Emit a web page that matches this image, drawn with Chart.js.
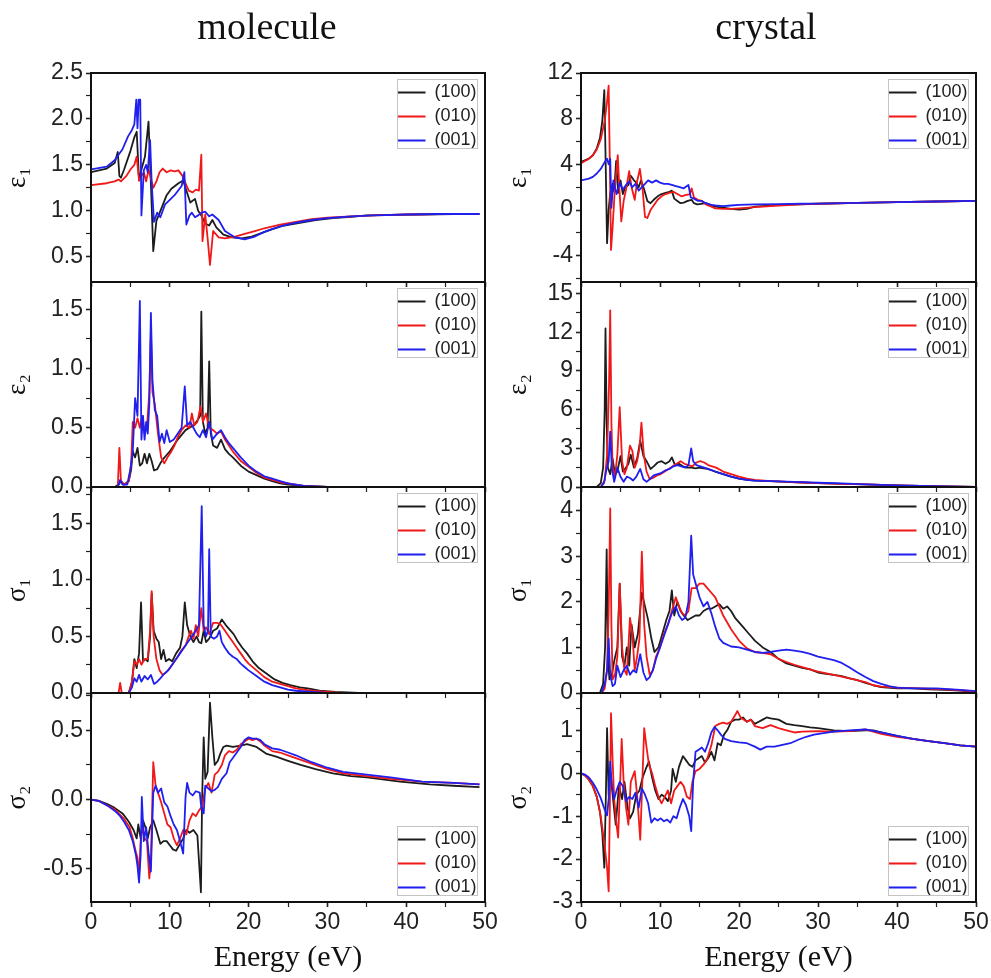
<!DOCTYPE html>
<html><head><meta charset="utf-8">
<script src="https://cdn.jsdelivr.net/npm/chart.js@4.4.1/dist/chart.umd.min.js"></script>
<style>
html,body{margin:0;padding:0;background:#fff;width:991px;height:978px;overflow:hidden}
#wrap{position:relative;width:991px;height:978px}
#wrap canvas{position:absolute;left:0;top:0}
</style></head><body><div id="wrap"></div>
<script>
// ---------- labels ----------
const SERIES_LABELS = ['(100)', '(010)', '(001)'];
const COLUMN_TITLES = ['molecule', 'crystal'];
const ENERGY_TITLE = 'Energy (eV)';
const ENERGY_MAJOR = [0, 10, 20, 30, 40, 50];
const ENERGY_MINOR = [5, 15, 25, 35, 45];

// ---------- molecule: [energy (eV), value] ----------
const mol_eps1_100 = [[0,1.42],[2,1.46],[3,1.52],[3.4,1.64],[3.6,1.38],[3.8,1.36],[4.2,1.45],[5.0,1.65],[5.5,1.8],[5.8,1.86],[6.1,1.33],[6.4,1.45],[6.85,1.59],[7.3,1.97],[7.6,1.3],[7.9,0.56],[8.3,0.89],[9.0,1.04],[9.6,1.17],[10.2,1.24],[11.1,1.3],[11.7,1.33],[12.1,1.22],[12.6,1.09],[13.2,1.13],[13.6,1.0],[14.0,0.95],[14.5,0.86],[15.0,0.84],[15.4,0.9],[15.9,0.82],[16.8,0.74],[17.9,0.71],[19.1,0.7],[20.4,0.72],[21.7,0.76],[23,0.8],[24.5,0.84],[26.5,0.87],[28.5,0.9],[30.7,0.92],[33,0.935],[35,0.95],[38,0.955],[42,0.96],[46,0.965],[49.3,0.965]];
const mol_eps1_010 = [[0,1.28],[2,1.3],[3,1.32],[3.5,1.34],[3.8,1.32],[4.5,1.38],[5.0,1.45],[5.5,1.5],[5.8,1.59],[6.1,1.33],[6.4,1.38],[6.7,1.42],[7.0,1.32],[7.3,1.45],[7.6,1.35],[7.9,1.25],[8.3,1.32],[8.7,1.42],[9.1,1.46],[9.6,1.42],[10.1,1.44],[10.6,1.43],[11.1,1.44],[11.6,1.38],[12.0,1.3],[12.4,1.22],[12.9,1.2],[13.3,1.23],[13.7,1.22],[14.0,1.61],[14.15,0.67],[14.5,0.96],[14.8,0.7],[15.1,0.41],[15.5,0.78],[16.2,0.71],[17.0,0.7],[18.3,0.72],[19.5,0.75],[20.8,0.78],[22,0.81],[24,0.85],[26,0.88],[28,0.91],[30,0.925],[33,0.94],[36,0.95],[40,0.96],[44,0.965],[49.3,0.965]];
const mol_eps1_001 = [[0,1.45],[2,1.48],[3,1.55],[3.5,1.61],[4.0,1.67],[4.7,1.81],[5.2,1.88],[5.5,1.94],[5.75,2.21],[5.9,1.9],[6.05,2.21],[6.25,2.21],[6.4,0.95],[6.7,1.44],[7.0,1.5],[7.2,1.42],[7.5,1.77],[7.7,1.3],[8.0,0.88],[8.4,0.98],[8.8,0.93],[9.4,1.07],[10.0,1.12],[10.7,1.18],[11.5,1.27],[11.85,1.42],[12.1,0.85],[12.5,0.95],[12.8,0.98],[13.2,0.93],[13.6,0.95],[14.0,0.98],[14.5,0.99],[15.0,0.94],[15.4,0.96],[16.2,0.9],[17.0,0.78],[18.3,0.71],[19.5,0.69],[20.8,0.72],[22,0.77],[24,0.83],[26,0.87],[28,0.9],[30,0.92],[33,0.94],[36,0.95],[40,0.96],[44,0.965],[49.3,0.965]];

const mol_eps2_100 = [[0,0],[3.0,0],[3.5,0.02],[3.8,0.05],[4.2,0.02],[4.8,0.05],[5.1,0.15],[5.3,0.3],[5.6,0.25],[5.9,0.33],[6.2,0.18],[6.5,0.2],[6.8,0.28],[7.1,0.2],[7.4,0.28],[7.7,0.22],[8.0,0.14],[8.4,0.15],[8.8,0.2],[9.2,0.24],[9.6,0.27],[10.0,0.3],[10.5,0.35],[11.0,0.4],[11.5,0.44],[12.0,0.48],[12.5,0.5],[13.0,0.52],[13.5,0.56],[13.85,0.6],[14.0,1.48],[14.2,0.55],[14.5,0.45],[14.8,0.5],[15.0,1.06],[15.2,0.45],[15.5,0.35],[16.0,0.33],[16.5,0.4],[17.0,0.32],[17.5,0.28],[18.0,0.25],[19,0.18],[20,0.13],[21,0.1],[22,0.07],[23,0.05],[24,0.03],[25,0.02],[27,0.01],[30,0],[49.3,0]];
const mol_eps2_010 = [[0,0],[3.4,0],[3.6,0.33],[3.8,0.05],[4.2,0.02],[4.8,0.05],[5.1,0.2],[5.3,0.55],[5.6,0.5],[5.9,0.58],[6.2,0.5],[6.5,0.6],[6.8,0.45],[7.1,0.5],[7.4,0.8],[7.6,1.3],[7.8,0.8],[8.1,0.7],[8.5,0.45],[8.9,0.25],[9.3,0.2],[9.7,0.25],[10.2,0.3],[10.6,0.35],[11.0,0.42],[11.5,0.48],[12.0,0.52],[12.5,0.5],[12.8,0.62],[13.1,0.52],[13.5,0.55],[13.9,0.68],[14.2,0.55],[14.6,0.62],[15.0,0.5],[15.5,0.48],[16.0,0.45],[16.5,0.47],[17.0,0.4],[17.5,0.35],[18.0,0.3],[19,0.22],[20,0.17],[21,0.12],[22,0.08],[23,0.06],[24,0.04],[25,0.03],[27,0.01],[30,0],[49.3,0]];
const mol_eps2_001 = [[0,0],[3.4,0],[3.7,0.06],[4.0,0.02],[4.6,0.02],[5.0,0.15],[5.3,0.3],[5.6,0.75],[5.9,0.6],[6.2,1.57],[6.4,0.4],[6.6,0.6],[6.8,0.4],[7.0,0.55],[7.2,0.45],[7.4,0.7],[7.6,1.47],[7.8,0.9],[8.1,0.65],[8.4,0.6],[8.7,0.38],[9.0,0.45],[9.3,0.37],[9.6,0.48],[10.0,0.38],[10.5,0.4],[11.0,0.45],[11.5,0.5],[11.9,0.85],[12.2,0.52],[12.6,0.55],[13.0,0.5],[13.4,0.45],[13.8,0.42],[14.2,0.48],[14.6,0.42],[15.0,0.55],[15.4,0.4],[16.0,0.45],[16.5,0.48],[17.0,0.42],[17.5,0.37],[18.0,0.33],[19,0.25],[20,0.18],[21,0.13],[22,0.09],[23,0.07],[24,0.05],[25,0.03],[27,0.01],[30,0],[49.3,0]];

const mol_sig1_100 = [[0,0],[4.8,0],[5.2,0.1],[5.5,0.3],[5.8,0.22],[6.1,0.35],[6.35,0.8],[6.6,0.28],[6.9,0.3],[7.2,0.28],[7.5,0.5],[7.7,0.88],[7.95,0.55],[8.3,0.48],[8.6,0.45],[8.9,0.3],[9.2,0.38],[9.5,0.28],[9.9,0.3],[10.3,0.28],[10.8,0.35],[11.3,0.4],[11.6,0.5],[11.9,0.8],[12.2,0.6],[12.6,0.5],[13.0,0.45],[13.4,0.5],[13.7,0.45],[14.0,0.44],[14.3,0.55],[14.6,0.45],[15.0,0.48],[15.5,0.55],[16.0,0.57],[16.6,0.65],[17.1,0.6],[17.6,0.56],[18.1,0.52],[18.6,0.46],[19.2,0.4],[19.8,0.35],[20.5,0.28],[21.3,0.22],[22.3,0.17],[23.3,0.12],[24.3,0.09],[25.3,0.07],[26.5,0.05],[27.5,0.04],[29,0.02],[31,0.01],[34,0],[49.3,0]];
const mol_sig1_010 = [[0,0],[3.5,0],[3.7,0.09],[3.9,0],[4.8,0],[5.2,0.1],[5.5,0.28],[5.8,0.25],[6.1,0.3],[6.4,0.25],[6.8,0.3],[7.2,0.3],[7.5,0.55],[7.7,0.9],[7.95,0.5],[8.3,0.3],[8.7,0.2],[9.1,0.16],[9.5,0.18],[10.0,0.22],[10.5,0.27],[11.0,0.32],[11.5,0.38],[12.0,0.42],[12.4,0.5],[12.7,0.55],[13.0,0.48],[13.3,0.6],[13.6,0.5],[14.0,0.75],[14.3,0.55],[14.6,0.58],[15.0,0.52],[15.5,0.62],[16.0,0.62],[16.5,0.6],[17.0,0.55],[17.5,0.5],[18.0,0.45],[18.5,0.4],[19,0.35],[19.5,0.3],[20,0.26],[21,0.2],[22,0.14],[23,0.1],[24,0.08],[25,0.06],[26,0.04],[27,0.03],[28,0.02],[30,0.01],[32,0],[49.3,0]];
const mol_sig1_001 = [[0,0],[4.8,0],[5.2,0.05],[5.5,0.13],[5.8,0.1],[6.1,0.16],[6.4,0.1],[6.8,0.15],[7.2,0.12],[7.6,0.16],[8.0,0.08],[8.4,0.1],[8.8,0.13],[9.3,0.17],[9.8,0.2],[10.3,0.25],[10.8,0.3],[11.3,0.35],[11.8,0.4],[12.3,0.45],[12.8,0.5],[13.3,0.55],[13.7,0.6],[14.05,1.65],[14.3,0.6],[14.6,0.5],[14.85,0.55],[15.0,1.27],[15.2,0.5],[15.6,0.48],[16.0,0.5],[16.3,0.55],[16.6,0.45],[17.0,0.4],[17.5,0.35],[18.0,0.32],[18.5,0.3],[19,0.26],[19.5,0.23],[20,0.2],[21,0.15],[22,0.1],[23,0.07],[24,0.05],[25,0.03],[26,0.02],[28,0.01],[30,0],[49.3,0]];

const mol_sig2_100 = [[0,0],[1,-0.01],[2,-0.03],[3,-0.06],[4,-0.1],[4.8,-0.16],[5.4,-0.22],[5.8,-0.28],[6.0,-0.18],[6.3,-0.28],[6.6,-0.15],[6.9,-0.2],[7.2,-0.28],[7.5,-0.2],[7.9,-0.15],[8.3,-0.22],[8.8,-0.32],[9.2,-0.3],[9.6,-0.3],[10.0,-0.33],[10.4,-0.36],[10.8,-0.37],[11.3,-0.32],[11.7,-0.28],[12.1,-0.22],[12.5,-0.24],[13.0,-0.22],[13.5,-0.26],[13.95,-0.67],[14.1,0.0],[14.3,0.45],[14.5,0.15],[14.8,0.2],[15.1,0.7],[15.4,0.45],[15.7,0.25],[16.1,0.28],[16.4,0.33],[16.8,0.38],[17.2,0.39],[18,0.38],[19,0.39],[19.8,0.4],[21,0.38],[22.3,0.33],[23.5,0.31],[25,0.28],[26.6,0.25],[28.5,0.22],[30.7,0.19],[33,0.17],[35,0.16],[39.2,0.13],[43,0.11],[46,0.1],[49.3,0.09]];
const mol_sig2_010 = [[0,0],[1,-0.01],[2,-0.04],[3,-0.07],[3.7,-0.11],[4.2,-0.14],[4.9,-0.2],[5.3,-0.28],[5.7,-0.38],[5.9,-0.42],[6.1,-0.55],[6.3,-0.3],[6.5,-0.2],[6.8,-0.28],[7.1,-0.3],[7.4,-0.57],[7.6,-0.45],[7.9,0.27],[8.2,0.1],[8.5,0.05],[8.9,-0.02],[9.3,-0.1],[9.7,-0.18],[10.1,-0.2],[10.5,-0.28],[10.9,-0.33],[11.3,-0.28],[11.7,-0.22],[12.1,-0.25],[12.5,-0.15],[12.9,-0.1],[13.3,-0.12],[13.7,-0.08],[14.1,-0.05],[14.5,0.08],[14.9,0.12],[15.3,0.05],[15.7,0.18],[16.1,0.2],[16.6,0.25],[17.0,0.32],[17.5,0.35],[18.0,0.34],[18.5,0.36],[19,0.4],[19.5,0.42],[20,0.44],[20.5,0.43],[21,0.44],[21.5,0.42],[22,0.39],[23,0.35],[24,0.34],[25,0.32],[26,0.3],[28,0.26],[30,0.22],[32,0.19],[35,0.17],[38,0.15],[42,0.13],[46,0.12],[49.3,0.11]];
const mol_sig2_001 = [[0,0],[1,-0.01],[2,-0.04],[3,-0.08],[3.7,-0.12],[4.2,-0.16],[4.8,-0.22],[5.3,-0.3],[5.7,-0.4],[5.9,-0.48],[6.1,-0.6],[6.3,-0.4],[6.45,0.02],[6.7,-0.3],[7.0,-0.2],[7.3,-0.38],[7.6,-0.52],[7.9,0.05],[8.2,0.1],[8.5,0.05],[8.9,0.08],[9.3,-0.02],[9.7,-0.05],[10.1,-0.12],[10.5,-0.18],[10.9,-0.22],[11.3,-0.3],[11.7,-0.39],[12.0,0.02],[12.2,0.12],[12.5,0.05],[12.9,0.03],[13.3,0.06],[13.8,0.05],[14.0,-0.06],[14.3,-0.1],[14.5,0.1],[14.9,0.08],[15.3,0.06],[15.7,0.07],[16.1,0.09],[16.6,0.15],[17.2,0.19],[17.6,0.27],[18.0,0.3],[18.5,0.34],[19,0.38],[19.5,0.43],[20,0.45],[20.5,0.44],[21,0.44],[21.5,0.43],[22,0.4],[23,0.37],[24,0.36],[25,0.34],[26,0.32],[28,0.27],[30,0.23],[32,0.2],[35,0.18],[38,0.16],[42,0.13],[46,0.12],[49.3,0.11]];

// ---------- crystal: [energy (eV), value] ----------
const cry_eps1_100 = [[0,4.2],[1,4.5],[1.5,4.8],[2.0,5.4],[2.4,6.3],[2.7,7.8],[2.95,10.5],[3.1,5],[3.3,-2.9],[3.5,0.0],[3.7,1.5],[4.0,2.3],[4.2,1.6],[4.45,4.3],[4.7,1.5],[5.0,2.6],[5.3,1.4],[5.6,2.0],[6.0,2.2],[6.3,3.0],[6.7,2.6],[7.0,2.4],[7.3,2.0],[7.6,2.6],[8.0,1.8],[8.4,0.8],[8.8,0.6],[9.2,0.9],[9.7,1.2],[10.2,1.4],[10.7,1.5],[11.2,1.6],[11.5,1.7],[11.8,1.0],[12.2,0.8],[12.6,0.6],[13.0,0.65],[13.5,0.8],[14.0,0.9],[14.3,0.6],[14.7,0.5],[15.2,0.55],[15.8,0.6],[16.3,0.45],[17,0.3],[17.5,0.25],[18,0.2],[19,0.1],[20,0.05],[21,0.1],[22,0.3],[23,0.35],[25,0.45],[27,0.5],[30,0.55],[35,0.62],[40,0.7],[45,0.75],[50,0.8]];
const cry_eps1_010 = [[0,4.1],[1,4.5],[1.5,4.8],[2,5.3],[2.5,6.2],[3.0,7.8],[3.3,9.5],[3.5,10.9],[3.65,4.0],[3.8,-3.5],[4.0,-1.5],[4.3,2.0],[4.65,4.8],[4.85,2.0],[5.1,-1.0],[5.4,0.8],[5.7,1.8],[6.1,3.4],[6.4,2.0],[6.8,0.9],[7.1,2.5],[7.45,3.6],[7.8,1.8],[8.1,-0.6],[8.4,-0.7],[8.8,0.0],[9.2,0.4],[9.7,0.9],[10.2,1.2],[10.7,1.4],[11.2,1.5],[11.7,1.6],[12.2,1.4],[12.7,1.2],[13.2,1.3],[13.8,1.4],[14.0,1.9],[14.3,1.1],[14.8,0.9],[15.3,0.8],[15.8,0.5],[16.5,0.3],[17,0.15],[18,0.1],[19,0.1],[20,0.15],[22,0.25],[25,0.4],[28,0.5],[30,0.55],[35,0.62],[40,0.7],[45,0.75],[50,0.8]];
const cry_eps1_001 = [[0,2.6],[1,2.75],[1.5,2.9],[2,3.2],[2.5,3.6],[3.0,4.2],[3.3,4.5],[3.5,4.0],[3.7,4.5],[3.85,0.2],[4.1,2.6],[4.5,1.4],[4.9,2.4],[5.3,1.8],[5.7,2.2],[6.1,2.5],[6.5,2.0],[6.9,2.3],[7.3,1.7],[7.7,2.0],[8.1,2.3],[8.5,2.6],[9.0,2.4],[9.5,2.6],[10.0,2.4],[10.5,2.3],[11.0,2.3],[11.5,2.2],[12.0,2.1],[12.5,2.0],[13.0,1.9],[13.6,2.2],[13.9,1.1],[14.3,1.0],[14.8,0.8],[15.3,0.8],[15.8,0.6],[16.5,0.45],[17,0.4],[18,0.35],[19,0.4],[20,0.45],[22,0.5],[25,0.52],[28,0.55],[30,0.57],[35,0.63],[40,0.7],[45,0.75],[50,0.8]];

const cry_eps2_100 = [[0,0],[2.0,0],[2.5,0.3],[2.8,1.5],[3.0,6],[3.1,12.3],[3.25,5],[3.4,1.5],[3.7,1.0],[4.0,2.2],[4.3,1.0],[4.6,1.2],[5.0,2.4],[5.3,1.2],[5.7,1.5],[6.0,1.8],[6.3,2.5],[6.7,1.5],[7.1,2.2],[7.5,3.6],[7.9,2.4],[8.3,2.0],[8.8,1.4],[9.2,1.6],[9.7,1.9],[10.2,2.0],[10.7,1.8],[11.2,2.0],[11.5,2.3],[11.9,1.7],[12.4,1.8],[12.9,1.6],[13.4,1.5],[14.0,1.5],[14.5,1.45],[15.0,1.5],[15.5,1.45],[16,1.4],[16.5,1.3],[17,1.2],[18,1.0],[19,0.8],[20,0.65],[21,0.55],[22,0.5],[24,0.45],[26,0.4],[28,0.35],[30,0.3],[33,0.25],[36,0.2],[40,0.12],[43,0.08],[46,0.04],[50,0]];
const cry_eps2_010 = [[0,0],[2.5,0],[3.0,0.5],[3.3,2.5],[3.55,8],[3.7,13.7],[3.85,5],[4.0,1.5],[4.3,0.8],[4.6,2.5],[4.9,6.2],[5.2,2.0],[5.5,1.0],[5.8,1.5],[6.2,3.2],[6.5,2.8],[6.8,1.5],[7.1,2.0],[7.4,3.0],[7.65,5.0],[7.95,2.5],[8.3,1.2],[8.7,0.6],[9.1,0.7],[9.6,0.9],[10.1,1.0],[10.6,1.2],[11.1,1.4],[11.6,1.6],[12.1,1.8],[12.6,2.0],[13.1,1.8],[13.6,1.7],[14.1,1.6],[14.6,1.9],[15.1,2.0],[15.6,1.9],[16.1,1.7],[16.6,1.6],[17.1,1.5],[18,1.2],[19,1.0],[20,0.8],[21,0.65],[22,0.55],[24,0.45],[26,0.4],[28,0.35],[30,0.3],[33,0.25],[36,0.2],[40,0.12],[43,0.08],[46,0.04],[50,0]];
const cry_eps2_001 = [[0,0],[2.5,0],[2.9,0.3],[3.2,1.3],[3.5,2.0],[3.7,4.3],[3.9,1.5],[4.2,0.4],[4.6,1.5],[5.0,0.8],[5.4,0.4],[5.8,0.8],[6.2,0.7],[6.6,0.5],[7.0,0.8],[7.5,1.4],[7.9,0.6],[8.3,0.4],[8.7,0.6],[9.2,0.9],[9.7,1.0],[10.2,1.1],[10.7,1.3],[11.2,1.4],[11.7,1.6],[12.2,1.7],[12.7,1.6],[13.2,1.5],[13.6,1.7],[13.95,3.0],[14.2,2.0],[14.6,1.7],[15.1,1.6],[15.6,1.5],[16.1,1.4],[17,1.2],[18,1.0],[19,0.8],[20,0.65],[21,0.55],[22,0.5],[24,0.45],[26,0.42],[28,0.38],[30,0.33],[33,0.28],[36,0.2],[40,0.12],[43,0.08],[46,0.04],[50,0]];

const cry_sig1_100 = [[0,0],[2.4,0],[2.8,0.2],[3.05,1.0],[3.25,3.15],[3.4,0.8],[3.6,0.3],[3.9,0.4],[4.2,0.7],[4.6,1.0],[4.9,2.4],[5.2,0.8],[5.5,0.6],[5.8,1.0],[6.1,0.6],[6.4,1.5],[6.8,1.0],[7.2,1.3],[7.7,2.2],[8.1,1.9],[8.5,1.6],[8.9,1.2],[9.3,0.9],[9.8,1.0],[10.3,1.3],[10.8,1.6],[11.2,1.8],[11.5,2.25],[11.8,1.7],[12.2,2.0],[12.6,1.8],[13.0,1.7],[13.5,1.6],[14.0,1.65],[14.5,1.7],[15.0,1.7],[15.5,1.8],[16.0,1.85],[16.5,1.85],[17.0,1.9],[17.5,1.95],[18.0,1.85],[18.5,1.9],[19,1.8],[19.5,1.65],[20,1.55],[20.5,1.45],[21,1.35],[21.5,1.25],[22,1.15],[23,1.0],[24,0.9],[25,0.75],[26,0.65],[27,0.6],[28,0.55],[29,0.52],[30,0.45],[31,0.42],[32,0.4],[33,0.37],[34,0.32],[35,0.28],[36,0.22],[37,0.17],[38,0.13],[40,0.1],[42,0.1],[44,0.08],[46,0.07],[48,0.05],[50,0.02]];
const cry_sig1_010 = [[0,0],[2.6,0],[3.0,0.1],[3.3,0.5],[3.5,1.8],[3.7,4.05],[3.85,1.5],[4.0,0.3],[4.3,0.4],[4.6,0.8],[4.9,2.4],[5.2,1.0],[5.5,0.5],[5.8,0.4],[6.2,1.65],[6.5,1.3],[6.8,0.5],[7.1,0.8],[7.4,1.2],[7.7,3.1],[8.0,1.5],[8.3,0.8],[8.7,0.4],[9.1,0.5],[9.5,0.8],[10.0,1.0],[10.5,1.3],[11.0,1.5],[11.5,1.8],[12.0,2.1],[12.4,1.9],[12.8,1.75],[13.2,1.7],[13.6,1.8],[14.0,2.3],[14.5,2.3],[15.0,2.4],[15.5,2.4],[16.0,2.3],[16.5,2.2],[17.0,2.1],[17.5,1.9],[18.0,1.7],[19,1.4],[20,1.15],[21,0.98],[22,0.9],[23,0.88],[24,0.85],[25,0.75],[26,0.68],[27,0.62],[28,0.57],[30,0.47],[32,0.4],[34,0.32],[36,0.24],[37,0.17],[38,0.14],[40,0.12],[43,0.1],[46,0.08],[48,0.06],[50,0.03]];
const cry_sig1_001 = [[0,0],[2.6,0],[3.0,0.2],[3.3,0.5],[3.5,1.2],[3.7,0.4],[4.0,0.15],[4.3,0.2],[4.6,0.6],[5.0,0.35],[5.4,0.5],[5.8,0.6],[6.2,0.4],[6.6,0.5],[7.0,0.45],[7.5,0.85],[7.9,0.45],[8.3,0.28],[8.7,0.35],[9.1,0.5],[9.5,0.75],[10.0,1.0],[10.5,1.25],[11.0,1.5],[11.5,1.75],[12.0,1.9],[12.4,1.7],[12.8,1.6],[13.2,1.65],[13.6,2.0],[13.95,3.45],[14.2,2.6],[14.6,2.35],[15.0,2.1],[15.5,1.9],[16.0,2.0],[16.5,1.75],[17.0,1.45],[17.5,1.2],[18,1.1],[19,1.02],[20,1.0],[21,0.95],[22,0.9],[23,0.88],[24,0.9],[25,0.93],[26,0.95],[27,0.93],[28,0.9],[29,0.86],[30,0.8],[31,0.76],[32,0.72],[33,0.66],[34,0.56],[35,0.45],[36,0.35],[37,0.26],[38,0.2],[39,0.15],[40,0.12],[42,0.1],[45,0.1],[48,0.07],[50,0.04]];

const cry_sig2_100 = [[0,0],[0.5,-0.05],[1,-0.15],[1.5,-0.3],[2.0,-0.55],[2.4,-0.9],[2.7,-1.4],[2.95,-2.2],[3.15,-0.5],[3.3,1.05],[3.5,-0.5],[3.75,0.0],[4.0,-0.5],[4.4,-1.2],[4.8,-0.3],[5.2,-0.6],[5.5,-0.2],[5.9,-0.8],[6.2,-1.05],[6.6,-0.9],[7.0,-0.5],[7.4,-0.4],[7.8,-0.1],[8.2,0.1],[8.6,0.27],[9.0,-0.1],[9.4,-0.4],[9.8,-0.6],[10.2,-0.5],[10.6,-0.55],[11.0,-0.65],[11.4,-0.4],[11.6,0.1],[12.0,-0.2],[12.4,0.15],[12.9,0.4],[13.3,0.3],[13.7,0.2],[14.1,0.15],[14.5,0.3],[14.9,0.35],[15.3,0.4],[15.7,0.25],[16.1,0.35],[16.5,0.5],[16.9,0.3],[17.3,0.7],[17.7,0.65],[18.1,0.9],[18.5,1.0],[19,1.2],[19.5,1.25],[20,1.25],[20.5,1.3],[21,1.2],[21.5,1.25],[22,1.15],[22.5,1.2],[23,1.25],[23.5,1.3],[24,1.28],[25,1.25],[26,1.15],[27,1.12],[28,1.1],[29,1.07],[30,1.05],[32,1.0],[34,0.98],[36,1.0],[37,1.0],[38,0.95],[40,0.87],[42,0.8],[44,0.75],[46,0.7],[48,0.65],[50,0.62]];
const cry_sig2_010 = [[0,0],[0.5,-0.05],[1,-0.15],[1.5,-0.3],[2,-0.55],[2.5,-1.0],[3.0,-1.7],[3.3,-2.2],[3.5,-2.75],[3.65,-0.8],[3.8,1.4],[4.0,0.3],[4.2,-0.6],[4.5,-1.2],[4.7,-1.5],[5.0,0.0],[5.15,0.8],[5.4,-0.2],[5.7,-0.8],[6.0,-1.2],[6.3,-0.2],[6.8,0.05],[7.1,-0.5],[7.5,-1.55],[7.8,0.0],[8.0,1.05],[8.3,0.6],[8.6,0.2],[9.0,0.0],[9.4,-0.3],[9.8,-0.55],[10.2,-0.7],[10.6,-0.55],[11.0,-0.4],[11.4,-0.7],[11.8,-0.4],[12.2,-0.3],[12.6,-0.2],[13.0,-0.3],[13.4,-0.55],[13.8,-0.6],[14.1,-0.2],[14.5,0.05],[15.0,0.1],[15.5,0.2],[16.0,0.35],[16.5,0.65],[17,1.1],[17.5,1.15],[18,1.18],[18.5,1.15],[19,1.2],[19.5,1.35],[19.8,1.45],[20.2,1.3],[21,1.2],[21.5,1.25],[22,1.1],[23,1.05],[24,1.12],[25,1.05],[26,1.0],[27,0.95],[28,0.97],[30,0.98],[32,0.97],[34,0.98],[36,1.02],[38,0.92],[40,0.85],[42,0.8],[44,0.75],[46,0.7],[48,0.65],[50,0.62]];
const cry_sig2_001 = [[0,0],[0.5,-0.03],[1,-0.1],[1.5,-0.22],[2,-0.38],[2.5,-0.58],[3.0,-0.85],[3.3,-0.98],[3.5,-0.6],[3.7,0.27],[3.9,-0.3],[4.2,-0.6],[4.5,-0.4],[4.9,-0.2],[5.3,-0.3],[5.7,-0.65],[6.1,-0.55],[6.5,-0.6],[6.9,-0.45],[7.3,-0.8],[7.7,-0.35],[8.1,-0.5],[8.5,-0.7],[8.9,-1.15],[9.3,-1.05],[9.7,-1.1],[10.1,-1.05],[10.5,-1.12],[10.9,-1.08],[11.3,-1.15],[11.7,-1.0],[12.1,-1.05],[12.5,-0.8],[12.9,-0.6],[13.3,-0.75],[13.7,-1.0],[13.95,-1.35],[14.2,-0.2],[14.5,0.5],[14.9,0.55],[15.3,0.6],[15.7,0.5],[16.1,0.7],[16.5,0.95],[16.9,1.08],[17.3,1.0],[17.7,0.9],[18.2,0.8],[19,0.75],[20,0.72],[21,0.7],[22,0.62],[22.7,0.55],[23.5,0.62],[24.5,0.62],[25.5,0.66],[26.5,0.7],[27.5,0.78],[28.5,0.85],[29.5,0.9],[30.5,0.93],[32,0.97],[34,1.0],[36,1.02],[38,0.95],[40,0.87],[42,0.8],[44,0.75],[46,0.7],[48,0.65],[50,0.62]];

// ---------- y tick values per panel ----------
const mol_eps1_major = [0.5, 1.0, 1.5, 2.0, 2.5], mol_eps1_minor = [0.75, 1.25, 1.75, 2.25];
const mol_eps2_major = [0, 0.5, 1.0, 1.5], mol_eps2_minor = [0.25, 0.75, 1.25];
const mol_sig1_major = [0, 0.5, 1.0, 1.5], mol_sig1_minor = [0.25, 0.75, 1.25, 1.75];
const mol_sig2_major = [-0.5, 0, 0.5], mol_sig2_minor = [-0.25, 0.25, 0.75];
const cry_eps1_major = [-4, 0, 4, 8, 12], cry_eps1_minor = [-6, -2, 2, 6, 10];
const cry_eps2_major = [0, 3, 6, 9, 12, 15], cry_eps2_minor = [1.5, 4.5, 7.5, 10.5, 13.5];
const cry_sig1_major = [0, 1, 2, 3, 4], cry_sig1_minor = [0.5, 1.5, 2.5, 3.5, 4.5];
const cry_sig2_major = [-3, -2, -1, 0, 1], cry_sig2_minor = [-2.5, -1.5, -0.5, 0.5, 1.5];

// ---------- styling / layout ----------
const SANS = "'Liberation Sans', Arial, sans-serif";
const SERIF = "'Liberation Serif', 'Times New Roman', serif";
const COLORS = ['#1c1c1c', '#f01818', '#1f1ff0'];
const ROW_EDGES = [73, 282, 487, 693, 902];
const COLS = [
  {left: 91, right: 485, padL: 5, yTitleX: 18, titleCenter: 267, dec: 1},
  {left: 581, right: 976, padL: 541, yTitleX: 519, titleCenter: 766, dec: 0}
];

const panels = [
  {col:0,row:0,title:'ε₁',series:[mol_eps1_100,mol_eps1_010,mol_eps1_001],min:0.225,max:2.5,major:mol_eps1_major,minor:mol_eps1_minor},
  {col:0,row:1,title:'ε₂',series:[mol_eps2_100,mol_eps2_010,mol_eps2_001],min:0,max:1.73,major:mol_eps2_major,minor:mol_eps2_minor},
  {col:0,row:2,title:'σ₁',series:[mol_sig1_100,mol_sig1_010,mol_sig1_001],min:0,max:1.82,major:mol_sig1_major,minor:mol_sig1_minor},
  {col:0,row:3,title:'σ₂',series:[mol_sig2_100,mol_sig2_010,mol_sig2_001],min:-0.74,max:0.77,major:mol_sig2_major,minor:mol_sig2_minor,legendBottom:true},
  {col:1,row:0,title:'ε₁',series:[cry_eps1_100,cry_eps1_010,cry_eps1_001],min:-6.3,max:12,major:cry_eps1_major,minor:cry_eps1_minor},
  {col:1,row:1,title:'ε₂',series:[cry_eps2_100,cry_eps2_010,cry_eps2_001],min:0,max:15.9,major:cry_eps2_major,minor:cry_eps2_minor},
  {col:1,row:2,title:'σ₁',series:[cry_sig1_100,cry_sig1_010,cry_sig1_001],min:0,max:4.52,major:cry_sig1_major,minor:cry_sig1_minor},
  {col:1,row:3,title:'σ₂',series:[cry_sig2_100,cry_sig2_010,cry_sig2_001],min:-3,max:1.87,major:cry_sig2_major,minor:cry_sig2_minor,legendBottom:true}
];

const isIn = (arr, v) => arr.some(a => Math.abs(a - v) < 1e-9);

const framePlugin = {
  id: 'panelFrame',
  beforeDatasetsDraw(chart) {
    const b = chart.$lgBox; if (!b) return;
    const ctx = chart.ctx;
    ctx.save(); ctx.strokeStyle = '#c4c4c4'; ctx.lineWidth = 1;
    ctx.strokeRect(Math.round(b.x) + 0.5, Math.round(b.y) + 0.5, b.w, b.h);
    ctx.restore();
  },
  afterDraw(chart) {
    const a = chart.chartArea, ctx = chart.ctx;
    ctx.save(); ctx.strokeStyle = '#111'; ctx.lineWidth = 2;
    ctx.strokeRect(a.left, a.top, a.right - a.left, a.bottom - a.top);
    ctx.restore();
  }
};

const legendPlacer = {
  id: 'legendPlacer',
  afterLayout(chart, args, opts) {
    const lg = chart.legend, a = chart.chartArea;
    if (!lg) return;
    const w = 80, h = 69;
    const bx = a.right - 8.5 - w;
    const by = opts.bottom ? a.bottom - 7 - h : a.top + 6;
    lg.left = bx - 5; lg.top = by - 1.5;
    lg.right = lg.left + lg.width; lg.bottom = lg.top + lg.height;
    chart.$lgBox = {x: bx, y: by, w: w, h: h};
  }
};

const wrap = document.getElementById('wrap');
panels.forEach(p => {
  const col = COLS[p.col];
  const top = ROW_EDGES[p.row], bottom = ROW_EDGES[p.row + 1];
  const isTop = p.row === 0, isBottom = p.row === 3;
  const xH = isBottom ? 71 : 8;
  const titleLH = 38 * 1.2;
  const padTop = isTop ? 6.2 : top;
  // the column title is centred over [padL, titleRight]; a spacer axis on the right fills the gap
  const titleRight = isTop ? 2 * col.titleCenter - col.padL : col.right;
  const spacerW = titleRight - col.right;
  const canvas = document.createElement('canvas');
  canvas.width = 991; canvas.height = 978;
  wrap.appendChild(canvas);

  const yTicks = p.major.map(v => ({value: v})).concat(p.minor.map(v => ({value: v, minor: true})));
  const xTicks = ENERGY_MAJOR.map(v => ({value: v})).concat(ENERGY_MINOR.map(v => ({value: v, minor: true})));

  const scales = {
    x: {
      type: 'linear', min: 0, max: 50,
      afterBuildTicks: s => { s.ticks = xTicks.map(t => Object.assign({}, t)); },
      afterFit: s => { s.height = xH; },
      ticks: {
        display: isBottom, autoSkip: false, maxRotation: 0, padding: 2,
        color: '#222', font: {family: SANS, size: 23},
        callback: v => isIn(ENERGY_MAJOR, v) ? String(v) : ''
      },
      grid: {
        drawOnChartArea: false, drawTicks: true, tickLength: 5, tickColor: '#222',
        tickWidth: c => (c.tick && c.tick.minor) ? 1.2 : 1.6
      },
      border: {display: false},
      title: {
        display: isBottom, text: ENERGY_TITLE, color: '#111',
        font: {family: SERIF, size: 30, lineHeight: 1}, padding: 0
      }
    },
    y: {
      type: 'linear', min: p.min, max: p.max,
      afterBuildTicks: s => { s.ticks = yTicks.map(t => Object.assign({}, t)); },
      afterFit: s => { s.width = col.left - col.padL; },
      ticks: {
        autoSkip: false, padding: 3, color: '#222', font: {family: SANS, size: 23},
        callback: v => isIn(p.major, v) ? (col.dec ? v.toFixed(col.dec) : String(Math.round(v))) : ''
      },
      grid: {
        drawOnChartArea: false, drawTicks: true, tickLength: 5, tickColor: '#222',
        tickWidth: c => (c.tick && c.tick.minor) ? 1.2 : 1.6
      },
      border: {display: false},
      title: {
        display: true, text: p.title, color: '#111',
        font: {family: SERIF, size: 27, lineHeight: 1},
        padding: {top: col.yTitleX - col.padL - 13.5, bottom: 0}
      }
    }
  };
  if (spacerW > 0) {
    scales.spacer = {
      type: 'linear', position: 'right', display: true,
      afterFit: s => { s.width = spacerW; },
      ticks: {display: false}, grid: {display: false, drawTicks: false}, border: {display: false}
    };
  }

  new Chart(canvas, {
    type: 'line',
    data: {
      datasets: p.series.map((s, i) => ({
        label: SERIES_LABELS[i],
        data: s.map(pt => ({x: pt[0], y: pt[1]})),
        borderColor: COLORS[i],
        backgroundColor: COLORS[i],
        borderWidth: 1.8,
        pointRadius: 0,
        tension: 0,
        fill: false,
        borderJoinStyle: 'round',
        order: 3 - i
      }))
    },
    options: {
      responsive: false,
      animation: false,
      devicePixelRatio: 1,
      events: [],
      layout: {padding: {left: col.padL, right: 991 - titleRight, top: padTop, bottom: 978 - bottom - xH}},
      plugins: {
        tooltip: {enabled: false},
        title: {
          display: isTop,
          text: COLUMN_TITLES[p.col],
          color: '#111',
          font: {family: SERIF, size: 38, weight: 'normal', lineHeight: 1.2},
          padding: {top: 0, bottom: top - 6.2 - titleLH}
        },
        legend: {
          display: true,
          position: 'chartArea',
          align: 'start',
          labels: {
            usePointStyle: true,
            pointStyle: 'line',
            pointStyleWidth: 28,
            padding: 6,
            color: '#222',
            font: {family: SANS, size: 18},
            sort: (a, b) => a.datasetIndex - b.datasetIndex,
            generateLabels: (chart) => Chart.defaults.plugins.legend.labels.generateLabels(chart).map(it => Object.assign(it, {lineWidth: 2.2}))
          }
        },
        legendPlacer: {bottom: !!p.legendBottom}
      },
      scales: scales
    },
    plugins: [framePlugin, legendPlacer]
  });
});
</script>
</body></html>
